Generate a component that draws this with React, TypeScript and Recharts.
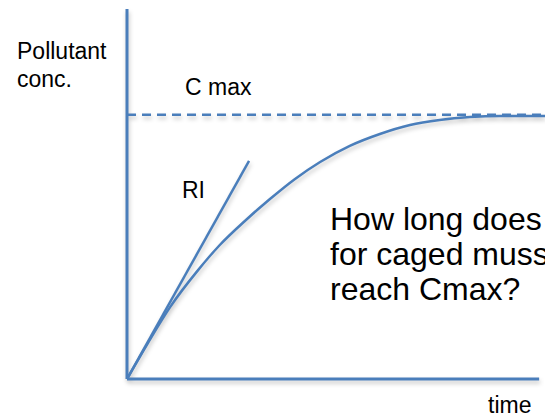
import { ComposedChart, Line, XAxis, YAxis, ReferenceLine } from "recharts";

// uptake curve (time in arbitrary units, conc relative to Cmax)
const TIME = [0, 0.5, 1.03, 1.7, 2.22, 2.82, 3.42, 4.02, 4.62, 5.33, 6.05, 6.77, 7.48, 8.2, 8.92, 10];
const CONC = [0, 0.136, 0.272, 0.412, 0.507, 0.598, 0.681, 0.757, 0.821, 0.882, 0.927, 0.961, 0.98, 0.991, 0.995, 0.995];

// initial rate (RI) tangent
const RI_TIME = [0, 2.92];
const RI_CONC = [0, 0.825];

const C_MAX = 1;
const Y_TOP = 1.4;
const X_END = 10;
const X_AXIS_END = 9.86;

const BLUE = "#4A7EBB";
const FONT = "'Liberation Sans', Arial, sans-serif";

const curveData = TIME.map((t, i) => ({ t, conc: CONC[i] }));
const riData = RI_TIME.map((t, i) => ({ t, ri: RI_CONC[i] }));

export default function App() {
  return (
    <div
      style={{
        position: "absolute",
        left: 0,
        top: 0,
        width: 545,
        height: 418,
        overflow: "hidden",
        background: "#fff",
      }}
    >
      <div style={{ position: "absolute", left: 0, top: 0, filter: "drop-shadow(1px 3px 2px rgba(0,0,0,0.22))" }}>
        <ComposedChart width={545} height={418} margin={{ top: 9, right: 0, bottom: 39, left: 127 }}>
          <XAxis type="number" dataKey="t" domain={[0, X_END]} hide allowDataOverflow />
          <YAxis type="number" domain={[0, Y_TOP]} hide allowDataOverflow />
          <ReferenceLine
            y={C_MAX}
            stroke={BLUE}
            strokeWidth={2.5}
            strokeDasharray="9 6"
          />
          <ReferenceLine
            segment={[{ x: 0, y: 0 }, { x: X_AXIS_END, y: 0 }]}
            stroke={BLUE}
            strokeWidth={3}
            ifOverflow="visible"
          />
          <ReferenceLine
            segment={[{ x: 0, y: 0 }, { x: 0, y: Y_TOP }]}
            stroke={BLUE}
            strokeWidth={3}
            ifOverflow="visible"
          />
          <Line
            data={riData}
            dataKey="ri"
            type="linear"
            stroke={BLUE}
            strokeWidth={2.5}
            dot={false}
            activeDot={false}
            isAnimationActive={false}
          />
          <Line
            data={curveData}
            dataKey="conc"
            type="monotone"
            stroke={BLUE}
            strokeWidth={2.5}
            dot={false}
            activeDot={false}
            isAnimationActive={false}
          />
        </ComposedChart>
      </div>
      <svg
        width={545}
        height={418}
        style={{ position: "absolute", left: 0, top: 0, pointerEvents: "none" }}
        fontFamily={FONT}
        fill="#000"
      >
        <text x={17} y={59} fontSize={23}>Pollutant</text>
        <text x={17} y={87} fontSize={23}>conc.</text>
        <text x={185} y={95} fontSize={23}>C max</text>
        <text x={182} y={198} fontSize={23}>RI</text>
        <text x={488} y={413} fontSize={23}>time</text>
        <text fontSize={32}>
          <tspan x={330} y={230}>How long does it take</tspan>
          <tspan x={330} y={265}>for caged mussels to</tspan>
          <tspan x={330} y={300}>reach Cmax?</tspan>
        </text>
      </svg>
    </div>
  );
}
